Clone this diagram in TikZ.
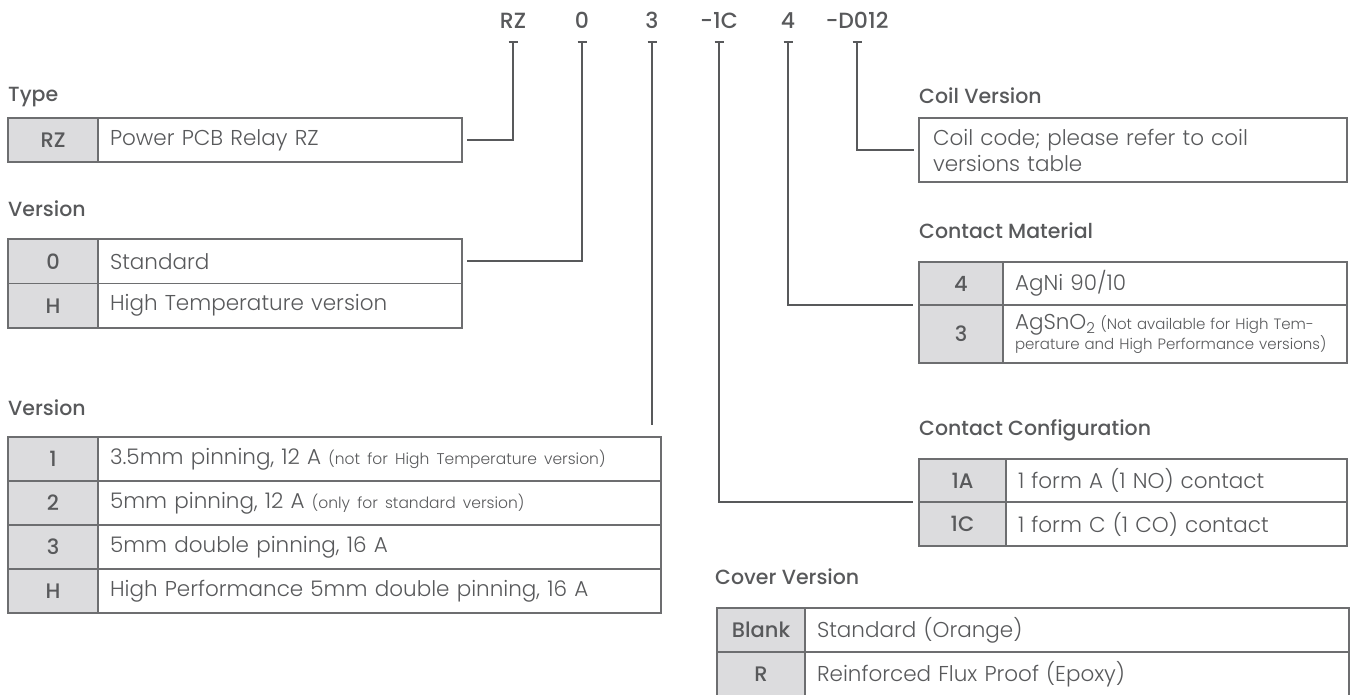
\documentclass[tikz,border=0pt]{standalone}
\usepackage{fontspec}
\setmainfont{Poppins}[UprightFont={* Light},BoldFont={* Medium}]
\usetikzlibrary{positioning}
\definecolor{txtgray}{HTML}{58595B}
\definecolor{cellgray}{HTML}{DCDCDE}
\definecolor{boxgray}{HTML}{6D6E70}
\definecolor{linegray}{HTML}{58595B}
\newcommand{\notesize}{\fontsize{15.5}{18}\selectfont}
\tikzset{
  code/.style={font=\bfseries\fontsize{22}{26}\selectfont,text=txtgray,inner sep=0pt,anchor=base},
  hdr/.style={font=\bfseries\fontsize{20.5}{24}\selectfont,text=txtgray,inner sep=0pt,anchor=base west},
  keycell/.style={draw=boxgray,fill=cellgray,line width=1.2pt,outer sep=0pt,inner sep=0pt,
    font=\bfseries\fontsize{21}{25}\selectfont,text=txtgray},
  desccell/.style={draw=boxgray,line width=1.2pt,outer sep=0pt,inner xsep=12pt,inner ysep=0pt,
    align=left,font=\fontsize{21.5}{26}\selectfont,text=txtgray},
  conn/.style={draw=linegray,line width=2.4pt}
}
\begin{document}
\begin{tikzpicture}[x=1pt,y=-1pt]
\useasboundingbox (0,0) rectangle (1354,694);

% type code along the top
\node[code] (cRZ) at (513,28) {RZ};
\node[code] (c0) at (582,28) {0};
\node[code] (c3) at (652,28) {3};
\node[code] (c1C) at (719,28) {-1C};
\node[code] (c4) at (788,28) {4};
\node[code] (cD) at (857,28) {-D012};

\coordinate (tRZ) at (513,42);
\coordinate (t0) at (582,42);
\coordinate (t3) at (652,42);
\coordinate (t1C) at (719,42);
\coordinate (t4) at (788,42);
\coordinate (tD) at (857,42);

% Type
\node[hdr] (lblType) at (8,101) {Type};
\node[keycell,minimum width=90pt,minimum height=44pt,anchor=north west] (rzK) at (8,118) {RZ};
\node[desccell,minimum height=44pt,text width=340pt,right=0pt of rzK] (rzD) {Power PCB Relay RZ};

% Version
\node[hdr] (lblVer) at (8,216) {Version};
\node[keycell,minimum width=90pt,minimum height=44.5pt,anchor=north west] (v0K) at (8,239) {0};
\node[desccell,minimum height=44.5pt,text width=340pt,right=0pt of v0K] (v0D) {Standard};
\node[keycell,minimum width=90pt,minimum height=44.5pt,below=0pt of v0K] (vHK) {H};
\node[desccell,minimum height=44.5pt,text width=340pt,right=0pt of vHK] (vHD) {High Temperature version};

% Version (pinning)
\node[hdr] (lblPin) at (8,415) {Version};
\node[keycell,minimum width=90pt,minimum height=44pt,anchor=north west] (p1K) at (8,437) {1};
\node[desccell,minimum height=44pt,text width=539pt,right=0pt of p1K] (p1D)
  {3.5mm pinning, 12 A {\notesize(not for High Temperature version)}};
\node[keycell,minimum width=90pt,minimum height=44pt,below=0pt of p1K] (p2K) {2};
\node[desccell,minimum height=44pt,text width=539pt,right=0pt of p2K] (p2D)
  {5mm pinning, 12 A {\notesize(only for standard version)}};
\node[keycell,minimum width=90pt,minimum height=44pt,below=0pt of p2K] (p3K) {3};
\node[desccell,minimum height=44pt,text width=539pt,right=0pt of p3K] (p3D) {5mm double pinning, 16 A};
\node[keycell,minimum width=90pt,minimum height=44pt,below=0pt of p3K] (pHK) {H};
\node[desccell,minimum height=44pt,text width=539pt,right=0pt of pHK] (pHD) {High Performance 5mm double pinning, 16 A};

% Coil Version
\node[hdr] (lblCoil) at (919,103) {Coil Version};
\node[desccell,minimum height=64pt,text width=400pt,inner xsep=14pt,anchor=north west] (coilD) at (919,118)
  {Coil code; please refer to coil\\versions table};

% Contact Material
\node[hdr] (lblMat) at (919,238) {Contact Material};
\node[keycell,minimum width=84pt,minimum height=43pt,anchor=north west] (m4K) at (919,262) {4};
\node[desccell,minimum height=43pt,text width=320pt,right=0pt of m4K] (m4D) {AgNi 90/10};
\node[keycell,minimum width=84pt,minimum height=58pt,below=0pt of m4K] (m3K) {3};
\node[desccell,minimum height=58pt,text width=320pt,right=0pt of m3K,font=\fontsize{15}{18}\selectfont] (m3D)
  {\mbox{{\fontsize{21.5}{18}\selectfont AgSnO\textsubscript{2}} (Not available for High Tem-}\\
   \mbox{perature and High Performance versions)}};

% Contact Configuration
\node[hdr] (lblConf) at (919,435) {Contact Configuration};
\node[keycell,minimum width=87pt,minimum height=43pt,anchor=north west] (conf1A) at (919,459) {1A};
\node[desccell,minimum height=43pt,text width=317pt,right=0pt of conf1A] (conf1AD) {1 form A (1 NO) contact};
\node[keycell,minimum width=87pt,minimum height=44pt,below=0pt of conf1A] (conf1C) {1C};
\node[desccell,minimum height=44pt,text width=317pt,right=0pt of conf1C] (conf1CD) {1 form C (1 CO) contact};

% Cover Version
\node[hdr] (lblCover) at (715,584) {Cover Version};
\node[keycell,minimum width=88pt,minimum height=44pt,anchor=north west] (covB) at (717,608) {Blank};
\node[desccell,minimum height=44pt,text width=520pt,right=0pt of covB] (covBD) {Standard (Orange)};
\node[keycell,minimum width=88pt,minimum height=44pt,below=0pt of covB] (covR) {R};
\node[desccell,minimum height=44pt,text width=520pt,right=0pt of covR] (covRD) {Reinforced Flux Proof (Epoxy)};

% ticks and leader lines
\draw[conn] ([xshift=-4.5pt]tRZ) -- ([xshift=4.5pt]tRZ);
\draw[conn] ([xshift=-4.5pt]t0) -- ([xshift=4.5pt]t0);
\draw[conn] ([xshift=-4.5pt]t3) -- ([xshift=4.5pt]t3);
\draw[conn] ([xshift=-4.5pt]t1C) -- ([xshift=4.5pt]t1C);
\draw[conn] ([xshift=-4.5pt]t4) -- ([xshift=4.5pt]t4);
\draw[conn] ([xshift=-4.5pt]tD) -- ([xshift=4.5pt]tD);

\draw[conn,shorten >=5pt] (tRZ) |- (rzD.east);
\draw[conn,shorten >=5pt] (t0) |- (v0D.east);
\draw[conn,shorten >=12pt] (t3) -- (t3 |- p1D.north);
\draw[conn,shorten >=6pt] (t1C) |- (conf1A.south west);
\draw[conn,shorten >=6pt] (t4) |- (m4K.south west);
\draw[conn,shorten >=5pt] (tD) |- (coilD.west);
\end{tikzpicture}
\end{document}
